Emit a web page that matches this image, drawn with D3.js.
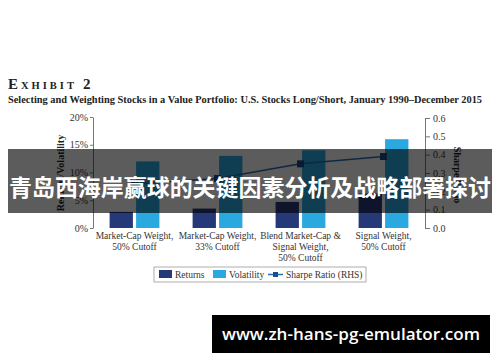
<!DOCTYPE html>
<html>
<head>
<meta charset="utf-8">
<script src="https://cdn.jsdelivr.net/npm/d3@7"></script>
<style>
  body { margin: 0; background: #fff; }
  svg { display: block; }
  .serif { font-family: "Liberation Serif", "DejaVu Serif", serif; }
</style>
</head>
<body>
<svg width="500" height="362"></svg>
<script>
const categories = [
  ['Market-Cap Weight,', '50% Cutoff'],
  ['Market-Cap Weight,', '33% Cutoff'],
  ['Blend Market-Cap &', 'Signal Weight,', '50% Cutoff'],
  ['Signal Weight,', '50% Cutoff']
];
const returns = [2.9, 3.5, 4.7, 6.2];
const volatility = [12.0, 13.0, 14.0, 16.0];
const sharpe = [0.24, 0.27, 0.35, 0.39];
const leftTicks = [0, 5, 10, 15, 20];
const rightTicks = [0, 0.1, 0.2, 0.3, 0.4, 0.5, 0.6];
const seriesNames = ['Returns', 'Volatility', 'Sharpe Ratio (RHS)'];

const colors = { returns: '#253878', volatility: '#2aa8e0', line: '#2a6fae', marker: '#1b4d86' };

const svg = d3.select('svg');

const keys = categories.map((d, i) => 'c' + i);

const x0 = d3.scaleBand().domain(keys).range([93, 425]).paddingInner(0.4).paddingOuter(0.2);
const x1 = d3.scaleBand().domain(['returns', 'volatility']).range([0, x0.bandwidth()]).paddingInner(0.12);
const yL = d3.scaleLinear().domain([0, 20]).range([228, 117]);
const yR = d3.scaleLinear().domain([0, 0.6]).range([228, 118]);

// titles
const title = svg.append('text')
  .attr('class', 'serif')
  .attr('x', 8)
  .attr('y', 89)
  .attr('fill', '#222')
  .style('font-weight', 'bold')
  .style('letter-spacing', '3px');
title.append('tspan').style('font-size', '15px').text('E');
title.append('tspan').style('font-size', '10.5px').text('XHIBIT');
title.append('tspan').style('font-size', '15px').attr('dx', 6).text('2');

svg.append('text')
  .attr('class', 'serif')
  .attr('x', 8)
  .attr('y', 103)
  .attr('fill', '#222')
  .attr('textLength', 474)
  .attr('lengthAdjust', 'spacingAndGlyphs')
  .style('font-weight', 'bold')
  .style('font-size', '10.5px')
  .text('Selecting and Weighting Stocks in a Value Portfolio: U.S. Stocks Long/Short, January 1990\u2013December 2015');

// bars
const groups = svg.append('g')
  .selectAll('g')
  .data(keys)
  .enter()
  .append('g')
  .attr('transform', d => `translate(${x0(d)},0)`);

groups.append('rect')
  .attr('x', x1('returns'))
  .attr('y', (d, i) => yL(returns[i]))
  .attr('width', x1.bandwidth())
  .attr('height', (d, i) => yL(0) - yL(returns[i]))
  .attr('fill', colors.returns);

groups.append('rect')
  .attr('x', x1('volatility'))
  .attr('y', (d, i) => yL(volatility[i]))
  .attr('width', x1.bandwidth())
  .attr('height', (d, i) => yL(0) - yL(volatility[i]))
  .attr('fill', colors.volatility);

// sharpe line
const line = d3.line()
  .x((d, i) => x0(keys[i]) + x0.bandwidth() / 2)
  .y(d => yR(d));

svg.append('path')
  .datum(sharpe)
  .attr('d', line)
  .attr('fill', 'none')
  .attr('stroke', colors.line)
  .attr('stroke-width', 1.5);

svg.append('g')
  .selectAll('rect')
  .data(sharpe)
  .enter()
  .append('rect')
  .attr('x', (d, i) => x0(keys[i]) + x0.bandwidth() / 2 - 3.5)
  .attr('y', d => yR(d) - 3.5)
  .attr('width', 7)
  .attr('height', 7)
  .attr('fill', colors.marker);

// axes
const leftAxis = d3.axisLeft(yL)
  .tickValues(leftTicks)
  .tickFormat(d => d + '%')
  .tickSize(3)
  .tickSizeOuter(0)
  .tickPadding(2);

const rightAxis = d3.axisRight(yR)
  .tickValues(rightTicks)
  .tickFormat(d3.format('.1f'))
  .tickSize(5)
  .tickSizeOuter(0)
  .tickPadding(3);

const gl = svg.append('g').attr('transform', 'translate(93,0)').call(leftAxis);
const gr = svg.append('g').attr('transform', 'translate(425,0)').call(rightAxis);

[gl, gr].forEach(g => {
  g.selectAll('path, line').attr('stroke', '#777');
  g.selectAll('text')
    .attr('class', 'serif')
    .attr('fill', '#333')
    .style('font-size', '10px');
});

svg.append('text')
  .attr('class', 'serif')
  .attr('transform', 'translate(64,173) rotate(-90)')
  .attr('text-anchor', 'middle')
  .attr('fill', '#222')
  .style('font-size', '10px')
  .style('font-weight', 'bold')
  .text('Returns/Volatility');

svg.append('text')
  .attr('class', 'serif')
  .attr('transform', 'translate(454,175) rotate(90)')
  .attr('text-anchor', 'middle')
  .attr('fill', '#222')
  .style('font-size', '10px')
  .style('font-weight', 'bold')
  .text('Sharpe Ratio');

// category labels
const catLabels = svg.append('g')
  .selectAll('text')
  .data(categories)
  .enter()
  .append('text')
  .attr('class', 'serif')
  .attr('text-anchor', 'middle')
  .attr('fill', '#333')
  .style('font-size', '9.5px')
  .attr('x', (d, i) => x0(keys[i]) + x0.bandwidth() / 2)
  .attr('y', 239);

catLabels.selectAll('tspan')
  .data(d => d)
  .enter()
  .append('tspan')
  .attr('x', function() { return d3.select(this.parentNode).attr('x'); })
  .attr('dy', (d, i) => i === 0 ? 0 : 11)
  .text(d => d);

// legend
const legend = svg.append('g').attr('class', 'serif');

legend.append('rect')
  .attr('x', 154)
  .attr('y', 267)
  .attr('width', 212)
  .attr('height', 15)
  .attr('fill', '#fff')
  .attr('stroke', '#999')
  .attr('stroke-width', 0.8);

const legendX = [159, 213, 268];

legend.append('rect')
  .attr('x', legendX[0]).attr('y', 270).attr('width', 13).attr('height', 8)
  .attr('fill', colors.returns);
legend.append('rect')
  .attr('x', legendX[1]).attr('y', 270).attr('width', 13).attr('height', 8)
  .attr('fill', colors.volatility);
legend.append('line')
  .attr('x1', legendX[2]).attr('x2', legendX[2] + 15)
  .attr('y1', 274.5).attr('y2', 274.5)
  .attr('stroke', colors.line).attr('stroke-width', 1.5);
legend.append('rect')
  .attr('x', legendX[2] + 5).attr('y', 272).attr('width', 5).attr('height', 5)
  .attr('fill', colors.marker);

legend.selectAll('text.lbl')
  .data(seriesNames)
  .enter()
  .append('text')
  .attr('class', 'lbl')
  .attr('x', (d, i) => legendX[i] + (i === 2 ? 18 : 16))
  .attr('y', 278)
  .attr('fill', '#333')
  .style('font-size', '9.5px')
  .text(d => d);

// overlay banner
svg.append('rect')
  .attr('x', 8)
  .attr('y', 149)
  .attr('width', 484)
  .attr('height', 64)
  .attr('fill', 'rgba(0,0,0,0.64)');

svg.append('text')
  .attr('x', 250)
  .attr('y', 196)
  .attr('text-anchor', 'middle')
  .attr('fill', '#fff')
  .attr('textLength', 482)
  .attr('lengthAdjust', 'spacingAndGlyphs')
  .style('font-family', '"Noto Sans CJK SC", sans-serif')
  .style('font-weight', 'bold')
  .style('font-size', '23px')
  .text('青岛西海岸赢球的关键因素分析及战略部署探讨');

// watermark
svg.append('rect')
  .attr('x', 212)
  .attr('y', 315)
  .attr('width', 278)
  .attr('height', 38)
  .attr('fill', '#000');

svg.append('text')
  .attr('x', 351)
  .attr('y', 340)
  .attr('text-anchor', 'middle')
  .attr('fill', '#fff')
  .attr('textLength', 258)
  .attr('lengthAdjust', 'spacingAndGlyphs')
  .style('font-family', '"Open Sans", sans-serif')
  .style('font-weight', '600')
  .style('font-size', '17px')
  .text('www.zh-hans-pg-emulator.com');
</script>
</body>
</html>
